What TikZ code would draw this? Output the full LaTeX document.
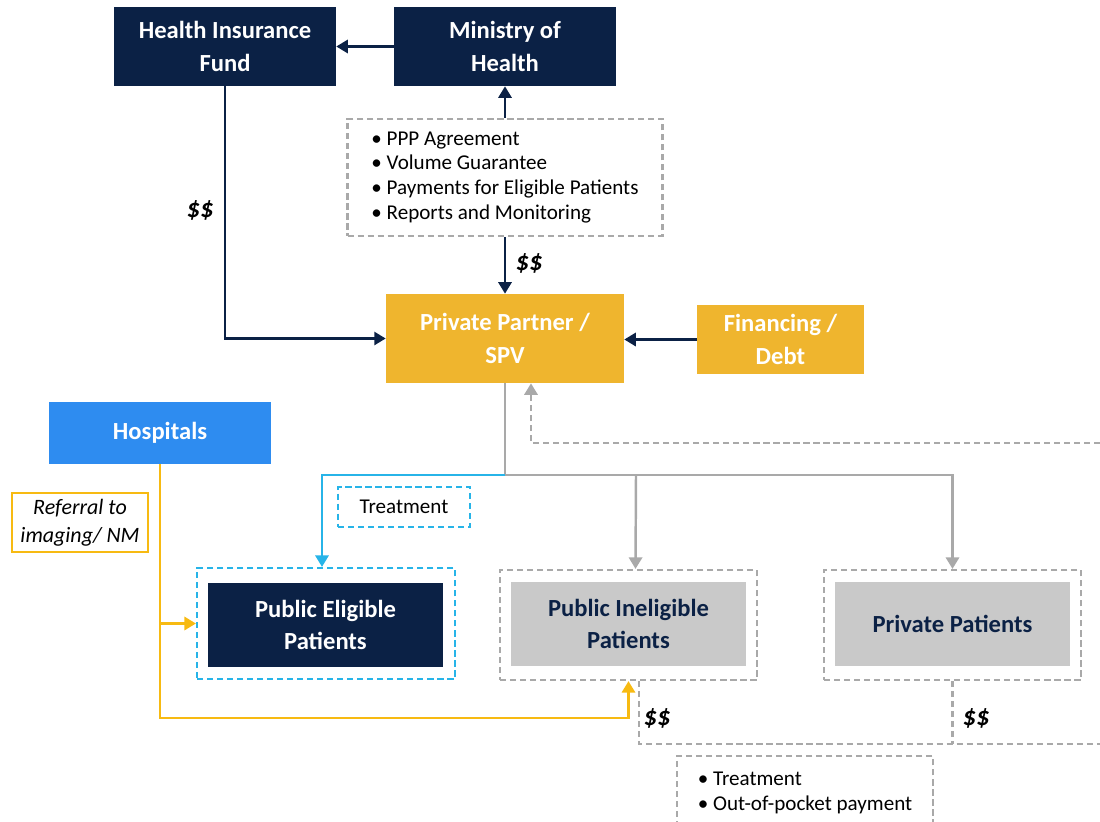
\documentclass[tikz,border=0pt]{standalone}
\usepackage{fontspec}
\setmainfont{Carlito}
\usepackage{xcolor}
\usetikzlibrary{arrows.meta}

\definecolor{navy}{HTML}{0B2145}
\definecolor{gold}{HTML}{EFB52E}
\definecolor{hospblue}{HTML}{2E8CF0}
\definecolor{skyblue}{HTML}{27B4E8}
\definecolor{linegray}{HTML}{A9A9A9}
\definecolor{boxgray}{HTML}{C9C9C9}
\definecolor{refyellow}{HTML}{F7BA12}

\begin{document}
\begin{tikzpicture}[x=0.02cm, y=-0.02cm, align=center,
	font=\fontsize{14}{18.5}\selectfont,
	>={Triangle[length=6.5pt, width=7.5pt]}]
	\tikzstyle{navybox}=[fill=navy, text=white, font=\fontsize{14}{18.5}\selectfont\bfseries, minimum width=4.44cm, minimum height=1.58cm]
	\tikzstyle{goldbox}=[fill=gold, text=white, font=\fontsize{14}{18.5}\selectfont\bfseries]
	\tikzstyle{graydashbox}=[draw=linegray, line width=1.3pt, dash pattern=on 3.5pt off 2.2pt]
	\tikzstyle{patbox}=[minimum width=4.7cm, minimum height=1.68cm, font=\fontsize{14}{18.5}\selectfont\bfseries]
	\tikzstyle{navyline}=[draw=navy, line width=1.3pt, ->]
	\tikzstyle{grayline}=[draw=linegray, line width=1.4pt]
	\tikzstyle{dollar}=[font=\fontsize{15}{17}\selectfont\bfseries\itshape]
	\clip (0,0) rectangle (1100,822);

	% funders
	\node[navybox] (hif) at (225,46.5) {Health Insurance\\Fund};
	\node[navybox] (moh) at (505,46.5) {Ministry of\\Health};
	\node[graydashbox, minimum width=6.3cm, minimum height=2.34cm, align=left,
		font=\fontsize{12}{14.2}\selectfont] (agree) at (505,177.5)
		{• PPP Agreement\\• Volume Guarantee\\• Payments for Eligible Patients\\• Reports and Monitoring};

	% partner
	\node[goldbox, minimum width=4.76cm, minimum height=1.78cm] (spv) at (505,338.5) {Private Partner /\\SPV};
	\node[goldbox, minimum width=3.34cm, minimum height=1.38cm] (fin) at (780.5,339.5) {Financing /\\Debt};

	% hospitals
	\node[fill=hospblue, text=white, font=\fontsize{14}{18.5}\selectfont\bfseries,
		minimum width=4.44cm, minimum height=1.24cm] (hosp) at (160,433) {Hospitals};
	\node[draw=refyellow, line width=1pt, minimum width=2.72cm, minimum height=1.18cm,
		font=\fontsize{12.5}{16}\selectfont\itshape] (referral) at (80,522.5) {Referral to\\imaging/ NM};
	\node[draw=skyblue, line width=1.3pt, dash pattern=on 3.5pt off 2.2pt,
		minimum width=2.64cm, minimum height=0.8cm, font=\fontsize{12}{14}\selectfont] (treat) at (404,507) {Treatment};

	% patients
	\node[draw=skyblue, line width=1.3pt, dash pattern=on 3.5pt off 2.2pt,
		minimum width=5.16cm, minimum height=2.22cm] (elig) at (326,623.5) {};
	\node[patbox, fill=navy, text=white] (eligin) at (325.5,625) {Public Eligible\\Patients};
	\node[graydashbox, minimum width=5.14cm, minimum height=2.2cm] (inelig) at (628.5,625) {};
	\node[patbox, fill=boxgray, text=navy] (ineligin) at (628.5,624) {Public Ineligible\\Patients};
	\node[graydashbox, minimum width=5.14cm, minimum height=2.2cm] (priv) at (952.5,625) {};
	\node[patbox, fill=boxgray, text=navy] (privin) at (952.5,624) {Private Patients};

	\node[graydashbox, minimum width=5.12cm, minimum height=1.48cm, align=left,
		font=\fontsize{12}{14.2}\selectfont] (pay) at (805,793)
		{• Treatment\\• Out-of-pocket payment};

	% money flows
	\draw[navyline] (moh.west) -- (hif.east);
	\draw[navyline] (agree.north) -- (moh.south);
	\draw[navyline] (agree.south) -- (spv.north);
	\node[dollar] (dollarspv) at (529,263) {\$\$};
	\draw[navyline] (hif.south) |- (spv.west);
	\node[dollar] (dollarhif) at (200,210) {\$\$};
	\draw[navyline] (fin.west) -- (fin.west -| spv.east);

	% treatment flows
	\coordinate (split) at (505,475);
	\draw[grayline] (spv.south) -- (split);
	\draw[grayline, ->] (split) -| (priv.north);
	\draw[grayline, ->] (split -| 636,0) -- ([xshift=0.14cm]inelig.north);
	\draw[draw=skyblue, line width=1.4pt, ->] (split) -| ([xshift=-0.08cm]elig.north);

	% referrals
	\coordinate (ybot) at (160,718);
	\draw[draw=refyellow, line width=1.4pt, ->] (hosp.south) -- (ybot) -| (inelig.south);
	\draw[draw=refyellow, line width=1.4pt, ->] (hosp.south |- elig.west) -- (elig.west);

	% returns
	\coordinate (retr) at (1100,443);
	\draw[grayline, dash pattern=on 3.5pt off 2.2pt, ->] (retr) -| ([xshift=0.52cm]spv.south);
	\coordinate (payr) at (1100,744);
	\draw[grayline, dash pattern=on 3.5pt off 2.2pt] ([xshift=0.21cm]inelig.south) |- (payr);
	\draw[grayline, dash pattern=on 3.5pt off 2.2pt] (priv.south) -- (priv.south |- payr);
	\node[dollar] (dollarinelig) at (657,718) {\$\$};
	\node[dollar] (dollarpriv) at (976,718) {\$\$};
\end{tikzpicture}
\end{document}
